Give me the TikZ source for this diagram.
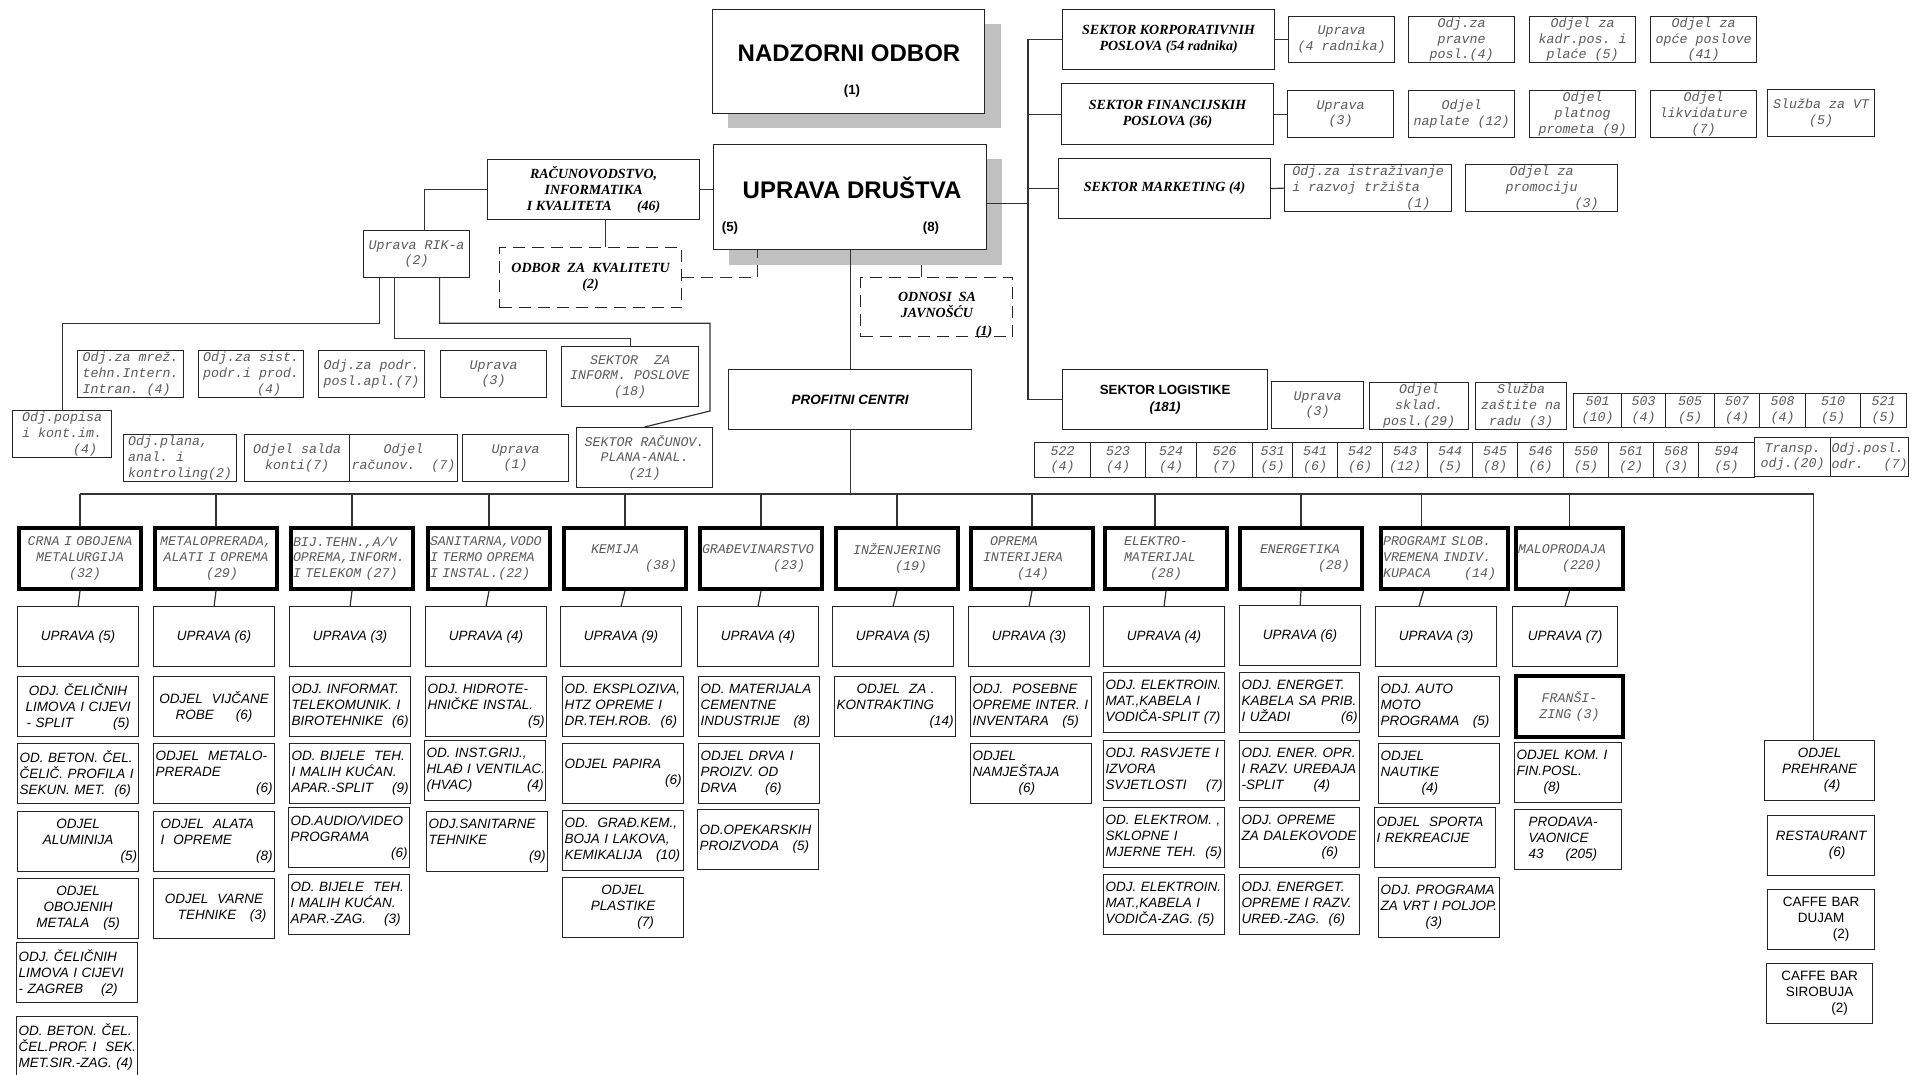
\documentclass[tikz,border=0pt]{standalone}
\usepackage{fontspec}
\setmainfont{Liberation Serif}
\setsansfont{Liberation Sans}
\setmonofont{Liberation Mono}
\definecolor{txtgray}{HTML}{5A5A5A}
\definecolor{sjena}{HTML}{C0C0C0}
\hyphenpenalty=10000
\exhyphenpenalty=10000
\newcommand{\courit}{\ttfamily\itshape\fontsize{13.3}{15.6}\selectfont}
\newcommand{\timesbi}{\rmfamily\bfseries\itshape\fontsize{14}{16}\selectfont}
\newcommand{\arialit}{\sffamily\itshape\fontsize{13.5}{16}\selectfont}
\newcommand{\arialup}{\sffamily\fontsize{13.5}{16}\selectfont}
\newcommand{\arialb}{\sffamily\bfseries\fontsize{13.3}{17}\selectfont}
\newcommand{\arialbi}{\sffamily\bfseries\itshape\fontsize{13.5}{16}\selectfont}
\newcommand{\arialbig}{\sffamily\bfseries\fontsize{24}{28}\selectfont}
\tikzset{sz/.style 2 args={minimum width=#1pt, minimum height=#2pt}}
\begin{document}
\begin{tikzpicture}[
    x=1pt, y=-1pt,
    box/.style = {draw=black!85, line width=1.2pt, fill=white, anchor=north west, inner sep=2pt},
    sjenka/.style = {fill=sjena, anchor=north west, inner sep=0pt},
    grey/.style = {box, text=txtgray, font=\courit, align=center, inner ysep=1pt},
    celija/.style = {grey, inner sep=0.5pt},
    sektor/.style = {box, font=\timesbi, align=center},
    dashbox/.style = {sektor, dash pattern=on 12pt off 7pt},
    centar/.style = {box, draw=black, line width=4pt, text=txtgray, font=\courit, sz={122}{61}, text width=118pt, align=left},
    uprava/.style = {box, font=\arialit, sz={121}{60}},
    odjel/.style = {box, font=\arialit, sz={121}{60}, text width=117pt, align=left},
    odjelc/.style = {odjel, align=center},
    wire/.style = {draw=black!80, line width=1.2pt}
  ]
  \useasboundingbox (0,0) rectangle (1926,1074);

  % sjene
  \node[sjenka, sz={273}{104}] (nos) at (728,24) {};
  \node[sjenka, sz={273}{106}] (uds) at (729,159) {};

  % vrh
  \node[box, sz={272}{104}] (nad) at (712,9) {};
  \node[font=\arialbig] (nadime) at (849,53) {NADZORNI ODBOR};
  \node[font=\arialb] (nadbr) at (852,91) {(1)};
  \node[box, sz={273}{105}] (ud) at (713,144) {};
  \node[font=\arialbig] (udime) at (852,188) {UPRAVA DRUŠTVA};
  \node[font=\arialb] (udl) at (730,228) {(5)};
  \node[font=\arialb] (udd) at (931,228) {(8)};

  \node[sektor, sz={212}{60}] (rik) at (487,159) {RAČUNOVODSTVO,\\INFORMATIKA\\I KVALITETA\hspace{1.8em}(46)};
  \node[dashbox, sz={182}{60}] (odb) at (499,247) {ODBOR\ \ ZA\ \ KVALITETU\\(2)};
  \node[dashbox, sz={152}{59}] (odn) at (860,277) {};
  \node[font=\timesbi, align=center] (odntxt) at (937,315) {ODNOSI\ \ SA\\JAVNOŠĆU\\[2pt]\hspace*{94pt}(1)};

  % sektori desno
  \node[sektor, sz={212}{60}] (kor) at (1062,9) {SEKTOR KORPORATIVNIH\\POSLOVA (54 radnika)};
  \node[sektor, sz={212}{61}] (fin) at (1061,83) {SEKTOR FINANCIJSKIH\\POSLOVA (36)};
  \node[sektor, sz={212}{60}] (mar) at (1058,158) {SEKTOR MARKETING (4)};

  \node[grey, sz={106}{46}] (kup) at (1288,16) {Uprava\\(4 radnika)};
  \node[grey, sz={106}{46}] (kpr) at (1408,16) {Odj.za\\pravne\\posl.(4)};
  \node[grey, sz={106}{46}] (kkad) at (1529,16) {Odjel za\\kadr.pos. i\\plaće (5)};
  \node[grey, sz={106}{46}] (kop) at (1650,16) {Odjel za\\opće poslove\\(41)};
  \node[grey, sz={106}{47}] (fup) at (1287,90) {Uprava\\(3)};
  \node[grey, sz={106}{47}] (fnap) at (1408,90) {Odjel\\naplate (12)};
  \node[grey, sz={106}{47}] (fpp) at (1529,90) {Odjel\\platnog\\prometa (9)};
  \node[grey, sz={106}{47}] (flik) at (1650,90) {Odjel\\likvidature\\(7)};
  \node[grey, sz={107}{47}] (fvt) at (1767,89) {Služba za VT\\(5)};
  \node[grey, sz={167}{47}, align=left] (mistr) at (1284,164) {Odj.za istraživanje\\i razvoj tržišta\\\hspace*{114pt}(1)};
  \node[grey, sz={152}{47}] (mprom) at (1465,164) {Odjel za\\promociju\\\hspace*{90pt}(3)};

  % logistika
  \node[box, sz={205}{60}, font=\arialb, align=center] (log) at (1062,369) {SEKTOR LOGISTIKE\\{\itshape (181)}};
  \node[grey, sz={92}{47}] (lup) at (1271,381) {Uprava\\(3)};
  \node[grey, sz={99}{47}] (lskl) at (1369,382) {Odjel\\sklad.\\posl.(29)};
  \node[grey, sz={91}{47}] (lzas) at (1475,382) {Služba\\zaštite na\\radu (3)};
  \node[celija, sz={48}{34}] (c501) at (1573,393) {501\\(10)};
  \node[celija, sz={44}{34}] (c503) at (1621,393) {503\\(4)};
  \node[celija, sz={49}{34}] (c505) at (1665,393) {505\\(5)};
  \node[celija, sz={45}{34}] (c507) at (1714,393) {507\\(4)};
  \node[celija, sz={46}{34}] (c508) at (1759,393) {508\\(4)};
  \node[celija, sz={55}{34}] (c510) at (1805,393) {510\\(5)};
  \node[celija, sz={46}{34}] (c521) at (1860,393) {521\\(5)};
  \node[celija, sz={56}{35}] (c522) at (1034,442) {522\\(4)};
  \node[celija, sz={55}{35}] (c523) at (1090,442) {523\\(4)};
  \node[celija, sz={51}{35}] (c524) at (1145,442) {524\\(4)};
  \node[celija, sz={56}{35}] (c526) at (1196,442) {526\\(7)};
  \node[celija, sz={40}{35}] (c531) at (1252,442) {531\\(5)};
  \node[celija, sz={45}{35}] (c541) at (1292,442) {541\\(6)};
  \node[celija, sz={45}{35}] (c542) at (1337,442) {542\\(6)};
  \node[celija, sz={45}{35}] (c543) at (1382,442) {543\\(12)};
  \node[celija, sz={45}{35}] (c544) at (1427,442) {544\\(5)};
  \node[celija, sz={45}{35}] (c545) at (1472,442) {545\\(8)};
  \node[celija, sz={46}{35}] (c546) at (1517,442) {546\\(6)};
  \node[celija, sz={45}{35}] (c550) at (1563,442) {550\\(5)};
  \node[celija, sz={45}{35}] (c561) at (1608,442) {561\\(2)};
  \node[celija, sz={45}{35}] (c568) at (1653,442) {568\\(3)};
  \node[celija, sz={56}{35}] (c594) at (1698,442) {594\\(5)};
  \node[celija, sz={76}{39}] (ctr) at (1754,437) {Transp.\\odj.(20)};
  \node[celija, sz={78}{39}, align=left] (cpo) at (1830,437) {Odj.posl.\\odr.\hspace*{20pt}(7)};

  % RIK
  \node[grey, sz={106}{47}] (urik) at (363,230) {Uprava RIK-a\\(2)};
  \node[grey, sz={106}{47}, align=left] (mrez) at (77,350) {Odj.za mrež.\\tehn.Intern.\\Intran. (4)};
  \node[grey, sz={105}{47}, align=left] (sist) at (198,350) {Odj.za sist.\\podr.i prod.\\\hspace*{54pt}(4)};
  \node[grey, sz={106}{47}, align=left] (podr) at (318,350) {Odj.za podr.\\posl.apl.(7)};
  \node[grey, sz={106}{47}] (rup3) at (440,350) {Uprava\\(3)};
  \node[grey, sz={137}{60}] (sekinf) at (561,346) {SEKTOR\ \ ZA\\INFORM.\ POSLOVE\\(18)};
  \node[grey, sz={99}{47}, align=left] (popis) at (12,410) {Odj.popisa\\i kont.im.\\\hspace*{51pt}(4)};
  \node[grey, sz={113}{47}, align=left] (plana) at (123,434) {Odj.plana,\\anal. i\\kontroling(2)};
  \node[grey, sz={105}{47}] (salda) at (244,434) {Odjel salda\\konti(7)};
  \node[grey, sz={106}{47}] (racun) at (349,434) {Odjel\\računov.\ \ (7)};
  \node[grey, sz={106}{47}] (rup1) at (462,434) {Uprava\\(1)};
  \node[grey, sz={136}{60}] (sekrac) at (576,427) {SEKTOR RAČUNOV.\\PLANA-ANAL.\\(21)};

  % profitni centri
  \node[box, sz={243}{60}, font=\arialbi] (pcen) at (728,369) {PROFITNI CENTRI};
  \node[centar, align=center] (crna) at (17,526) {CRNA I OBOJENA\\METALURGIJA\\\hspace*{10pt}(32)};
  \node[centar, align=center] (meta) at (153,526) {METALOPRERADA,\\ALATI I OPREMA\\\hspace*{12pt}(29)};
  \node[centar] (bij) at (289,526) {BIJ.TEHN.,A/V\\OPREMA,INFORM.\\I TELEKOM (27)};
  \node[centar] (san) at (426,526) {SANITARNA,VODO\\I TERMO OPREMA\\I INSTAL.(22)};
  \node[centar] (kem) at (562,526) {\hspace*{25pt}KEMIJA\\\hfill(38)\hspace*{7pt}};
  \node[centar] (gra) at (698,526) {GRAĐEVINARSTVO\\\hfill(23)\hspace*{15pt}};
  \node[centar, align=center] (inz) at (834,526) {INŽENJERING\\\hspace*{28pt}(19)};
  \node[centar] (opr) at (969,526) {\hspace*{17pt}OPREMA\\\hspace*{10pt}INTERIJERA\\\hspace*{44pt}(14)};
  \node[centar] (ele) at (1103,526) {\hspace*{17pt}ELEKTRO-\\\hspace*{17pt}MATERIJAL\\\hspace*{43pt}(28)};
  \node[centar] (ene) at (1238,526) {\hspace*{18pt}ENERGETIKA\\\hspace*{76pt}(28)};
  \node[centar, sz={127}{61}, text width=123pt] (pro) at (1379,526) {PROGRAMI SLOB.\\VREMENA INDIV.\\KUPACA\hfill(14)\hspace*{10pt}};
  \node[centar, sz={107}{61}, text width=103pt] (mal) at (1514,526) {MALOPRODAJA\\\hspace*{44pt}(220)};

  % uprave
  \node[uprava] (ucrna) at (17,606) {UPRAVA (5)};
  \node[uprava] (umeta) at (153,606) {UPRAVA (6)};
  \node[uprava] (ubij) at (289,606) {UPRAVA (3)};
  \node[uprava] (usan) at (425,606) {UPRAVA (4)};
  \node[uprava] (ukem) at (560,606) {UPRAVA (9)};
  \node[uprava] (ugra) at (697,606) {UPRAVA (4)};
  \node[uprava] (uinz) at (832,606) {UPRAVA (5)};
  \node[uprava] (uopr) at (968,606) {UPRAVA (3)};
  \node[uprava] (uele) at (1103,606) {UPRAVA (4)};
  \node[uprava] (uene) at (1239,605) {UPRAVA (6)};
  \node[uprava] (upro) at (1375,606) {UPRAVA (3)};
  \node[uprava, sz={105}{60}] (umal) at (1512,606) {UPRAVA (7)};

  % odjeli
  \node[odjelc] (c1a) at (17,676) {ODJ.~ČELIČNIH\\LIMOVA~I~CIJEVI\\-~SPLIT\hspace*{40pt}(5)};
  \node[odjel] (c1b) at (17,743) {OD.~BETON.~ČEL.\\ČELIČ.~PROFILA~I\\SEKUN.~MET.~~(6)};
  \node[odjelc] (c1c) at (17,811) {ODJEL\\ALUMINIJA\\\hspace*{101pt}(5)};
  \node[odjelc] (c1d) at (17,878) {ODJEL\\OBOJENIH\\METALA\hspace*{14pt}(5)};
  \node[odjel] (c1e) at (16,942) {ODJ.~ČELIČNIH\\LIMOVA~I~CIJEVI\\-~ZAGREB\hspace*{18pt}(2)};
  \node[odjel] (c1f) at (16,1016) {OD.~BETON.~ČEL.\\ČEL.PROF.~I~~SEK.\\MET.SIR.-ZAG.~(4)};
  \node[odjelc] (c2a) at (153,676) {ODJEL~~VIJČANE\\ROBE\hspace*{22pt}(6)};
  \node[odjel] (c2b) at (153,743) {ODJEL~~METALO-\\PRERADE\\\hfill(6)\hspace*{4pt}};
  \node[odjel] (c2c) at (153,811) {\hspace*{5pt}ODJEL~~ALATA\\\hspace*{5pt}I~~OPREME\\\hfill(8)\hspace*{4pt}};
  \node[odjelc] (c2d) at (153,878) {ODJEL~~VARNE\\\hspace*{16pt}TEHNIKE~~~(3)};
  \node[odjel] (c3a) at (289,676) {ODJ.~INFORMAT.\\TELEKOMUNIK.~I\\BIROTEHNIKE~~(6)};
  \node[odjel] (c3b) at (289,743) {OD.~BIJELE~~TEH.\\I~MALIH~KUĆAN.\\APAR.-SPLIT\hfill(9)};
  \node[odjel] (c3c) at (288,807) {OD.AUDIO/VIDEO\\PROGRAMA\\\hfill(6)\hspace*{2pt}};
  \node[odjel] (c3d) at (288,874) {OD.~BIJELE~~TEH.\\I~MALIH~KUĆAN.\\APAR.-ZAG.\hspace*{18pt}(3)};
  \node[odjel] (c4a) at (425,676) {ODJ.~HIDROTE-\\HNIČKE~INSTAL.\\\hfill(5)\hspace*{4pt}};
  \node[odjel] (c4b) at (424,740) {OD.~INST.GRIJ.,\\HLAĐ~I~VENTILAC.\\(HVAC)\hfill(4)\hspace*{4pt}};
  \node[odjel] (c4c) at (426,811) {ODJ.SANITARNE\\TEHNIKE\\\hfill(9)\hspace*{4pt}};
  \node[odjel] (c5a) at (562,676) {OD.~EKSPLOZIVA,\\HTZ~OPREME~I\\DR.TEH.ROB.~~(6)};
  \node[odjel] (c5b) at (562,743) {ODJEL~PAPIRA\\\hfill(6)\hspace*{4pt}};
  \node[odjel] (c5c) at (562,810) {OD.~~GRAĐ.KEM.,\\BOJA~I~LAKOVA,\\KEMIKALIJA~~~(10)};
  \node[odjelc] (c5d) at (562,877) {ODJEL\\PLASTIKE\\\hspace*{45pt}(7)};
  \node[odjel] (c6a) at (698,676) {OD.~MATERIJALA\\CEMENTNE\\INDUSTRIJE~~~(8)};
  \node[odjel] (c6b) at (698,743) {ODJEL~DRVA~I\\PROIZV.~OD\\DRVA\hspace*{28pt}(6)};
  \node[odjel] (c6c) at (697,809) {OD.OPEKARSKIH\\PROIZVODA~~~(5)};
  \node[odjel] (c7a) at (834,676) {\hspace*{20pt}ODJEL~~ZA~.\\KONTRAKTING\\\hfill(14)};
  \node[odjel] (c8a) at (970,676) {ODJ.~~POSEBNE\\OPREME~INTER.~I\\INVENTARA~~~(5)};
  \node[odjel] (c8b) at (970,743) {ODJEL\\NAMJEŠTAJA\\\hspace*{46pt}(6)};
  \node[odjel] (c9a) at (1103,672) {ODJ.~ELEKTROIN.\\MAT.,KABELA~I\\VODIČA-SPLIT~(7)};
  \node[odjel] (c9b) at (1103,740) {ODJ.~RASVJETE~I\\IZVORA\\SVJETLOSTI\hfill(7)};
  \node[odjel] (c9c) at (1103,807) {OD.~ELEKTROM.~,\\SKLOPNE~I\\MJERNE~TEH.~~(5)};
  \node[odjel] (c9d) at (1103,874) {ODJ.~ELEKTROIN.\\MAT.,KABELA~I\\VODIČA-ZAG.~(5)};
  \node[odjel, sz={120}{60}, text width=116pt] (c10a) at (1239,672) {ODJ.~ENERGET.\\KABELA~SA~PRIB.\\I~UŽADI\hfill(6)\hspace*{6pt}};
  \node[odjel, sz={120}{60}, text width=116pt] (c10b) at (1239,740) {ODJ.~ENER.~OPR.\\I~RAZV.~UREĐAJA\\-SPLIT\hspace*{30pt}(4)};
  \node[odjel, sz={120}{60}, text width=116pt] (c10c) at (1239,807) {ODJ.~OPREME\\ZA~DALEKOVODE\\\hspace*{80pt}(6)};
  \node[odjel, sz={120}{60}, text width=116pt] (c10d) at (1239,874) {ODJ.~ENERGET.\\OPREME~I~RAZV.\\UREĐ.-ZAG.~~(6)};
  \node[odjel] (c11a) at (1378,676) {ODJ.~AUTO\\MOTO\\PROGRAMA~~~(5)};
  \node[odjel] (c11b) at (1378,743) {ODJEL\\NAUTIKE\\\hspace*{41pt}(4)};
  \node[odjel] (c11c) at (1374,807) {ODJEL~~SPORTA\\I~REKREACIJE\\\mbox{}};
  \node[odjel] (c11d) at (1378,877) {ODJ.~PROGRAMA\\ZA~VRT~I~POLJOP.\\\hspace*{45pt}(3)};
  \node[centar, sz={107}{61}, text width=103pt, align=center] (fran) at (1514,674) {FRANŠI-\\ZING (3)};
  \node[odjel, sz={107}{60}, text width=103pt] (c12b) at (1514,742) {ODJEL~KOM.~I\\FIN.POSL.\\\hspace*{27pt}(8)};
  \node[odjel, sz={107}{60}, text width=103pt] (c12c) at (1514,809) {\hspace*{12pt}PRODAVA-\\\hspace*{12pt}VAONICE\\\hspace*{12pt}43\hspace*{22pt}(205)};
  \node[odjelc, sz={110}{60}, text width=106pt] (preh) at (1764,740) {ODJEL\\PREHRANE\\\hspace*{25pt}(4)};
  \node[odjelc, sz={107}{60}, text width=103pt] (rest) at (1767,815) {RESTAURANT\\\hspace*{32pt}(6)};
  \node[odjelc, sz={107}{60}, text width=103pt, font=\arialup] (dujam) at (1767,889) {CAFFE~BAR\\DUJAM\\\hspace*{40pt}(2)};
  \node[odjelc, sz={106}{60}, text width=102pt, font=\arialup] (sirob) at (1766,963) {CAFFE~BAR\\SIROBUJA\\\hspace*{40pt}(2)};

  % veze
  \coordinate (spine) at (1028,0);
  \coordinate (bus) at (0,494);
  \coordinate (rbend) at (710,411);
  \draw[wire] (rik.east) -- (rik.east -| ud.west);
  \draw[wire] (rik.west) -| ([xshift=8pt]urik.north);
  \draw[wire] ([xshift=12pt]rik.south) -- ([xshift=12pt]rik.south |- odb.north);
  \draw[wire, dash pattern=on 12pt off 7pt] (odb.east) -| ([xshift=-93pt]ud.south);
  \draw[wire] ([xshift=56pt]uds.south) -- ([xshift=56pt]uds.south |- odn.north);
  \draw[wire] ([xshift=-37pt]urik.south) -- ++(0,45) -| (popis.north);
  \draw[wire] ([xshift=-22pt]urik.south) -- ++(0,60) -| (sekinf.north);
  \draw[wire] ([xshift=23pt]urik.south) -- ++(0,45) -| (rbend) -- (sekrac.north);
  \draw[wire] ([yshift=-6pt]ud.east) -- ([yshift=-6pt]ud.east -| spine);
  \draw[wire] (kor.west) -- (kor.west -| spine) |- (log.west);
  \draw[wire] (fin.west) -- (fin.west -| spine);
  \draw[wire] (mar.west) -- (mar.west -| spine);
  \draw[wire] (kor.east) -- (kup.west);
  \draw[wire] (fin.east) -- (fup.west);
  \draw[wire] (mar.east) -- (mistr.west);
  \draw[wire] (ud.south) -- (pcen.north);
  \draw[wire] (pcen.south) -- (pcen.south |- bus);
  \draw[wire] (crna.north |- bus) -- ([xshift=-6pt]preh.north |- bus) -- ([xshift=-6pt]preh.north);
  \draw[wire] (crna.north) -- (crna.north |- bus);
  \draw[wire] (meta.north) -- (meta.north |- bus);
  \draw[wire] (bij.north) -- (bij.north |- bus);
  \draw[wire] (san.north) -- (san.north |- bus);
  \draw[wire] (kem.north) -- (kem.north |- bus);
  \draw[wire] (gra.north) -- (gra.north |- bus);
  \draw[wire] (inz.north) -- (inz.north |- bus);
  \draw[wire] (opr.north) -- (opr.north |- bus);
  \draw[wire] ([xshift=-11pt]ele.north) -- ([xshift=-11pt]ele.north |- bus);
  \draw[wire] (ene.north) -- (ene.north |- bus);
  \draw[wire] ([xshift=-23pt]pro.north) -- ([xshift=-23pt]pro.north |- bus);
  \draw[wire] (mal.north) -- (mal.north |- bus);
  \draw[wire] (crna.south) -- (ucrna.north);
  \draw[wire] (meta.south) -- (umeta.north);
  \draw[wire] (bij.south) -- (ubij.north);
  \draw[wire] (san.south) -- (usan.north);
  \draw[wire] (kem.south) -- (ukem.north);
  \draw[wire] (gra.south) -- (ugra.north);
  \draw[wire] (inz.south) -- (uinz.north);
  \draw[wire] (opr.south) -- (uopr.north);
  \draw[wire] (ele.south) -- (uele.north);
  \draw[wire] (ene.south) -- (uene.north);
  \draw[wire] ([xshift=-21pt]pro.south) -- ([xshift=-17pt]upro.north);
  \draw[wire] (mal.south) -- (umal.north);
\end{tikzpicture}
\end{document}
